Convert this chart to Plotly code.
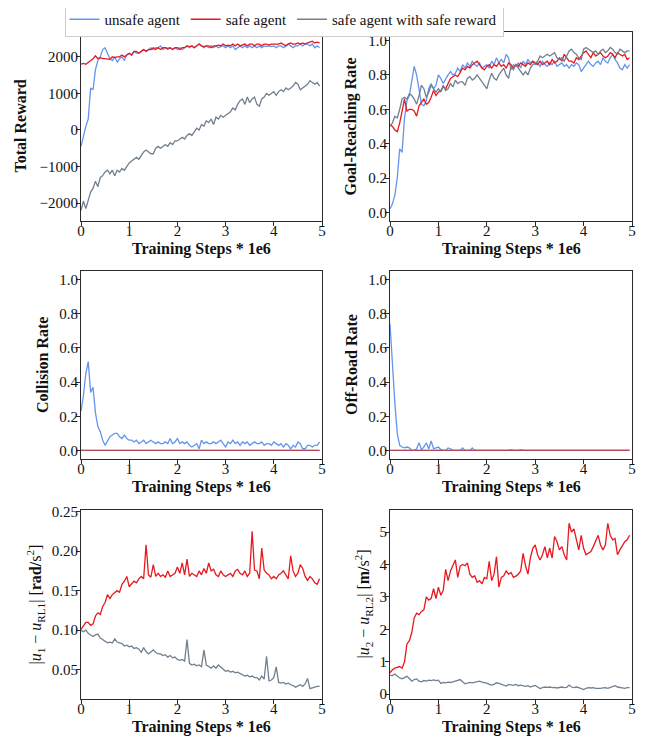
import plotly.graph_objects as go

# ---------------- data ----------------
steps = [round(i * 0.05, 2) for i in range(100)]  # training steps (x 1e6)

reward_unsafe = [
    -450, -150, 100, 300, 1150, 1100, 1650, 1900, 2000, 2200, 2250, 2100, 1950, 1900, 2000, 1850, 1950, 2000, 1900, 2050,
    2100, 2050, 2150, 2100, 2100, 2150, 2200, 2150, 2200, 2250, 2200, 2250, 2250, 2300, 2200, 2250, 2200, 2250, 2200, 2250,
    2200, 2250, 2200, 2250, 2300, 2250, 2300, 2250, 2300, 2350, 2300, 2250, 2300, 2250, 2300, 2250, 2300, 2250, 2280, 2300,
    2250, 2300, 2250, 2300, 2200, 2250, 2300, 2250, 2300, 2250, 2300, 2250, 2300, 2250, 2300, 2250, 2300, 2280, 2300, 2280,
    2300, 2250, 2300, 2300, 2250, 2300, 2350, 2300, 2250, 2300, 2300, 2350, 2300, 2350, 2350, 2300, 2350, 2250, 2300, 2250]
reward_safe = [
    1800, 1820, 1800, 1850, 1880, 1950, 2030, 1950, 1980, 1950, 1950, 1950, 1930, 2000, 1980, 2000, 2000, 2050, 2000, 2050,
    2100, 2050, 2150, 2150, 2100, 2150, 2200, 2150, 2200, 2200, 2250, 2200, 2250, 2200, 2250, 2250, 2230, 2250, 2200, 2250,
    2250, 2200, 2250, 2250, 2300, 2280, 2300, 2250, 2300, 2350, 2300, 2280, 2300, 2300, 2250, 2300, 2300, 2320, 2300, 2350,
    2300, 2320, 2300, 2350, 2300, 2350, 2300, 2320, 2350, 2300, 2350, 2350, 2300, 2350, 2350, 2300, 2350, 2350, 2320, 2350,
    2350, 2330, 2350, 2380, 2350, 2300, 2350, 2380, 2350, 2350, 2380, 2350, 2380, 2350, 2380, 2400, 2430, 2380, 2400, 2380]
reward_safe_sr = [
    -2200, -1950, -2150, -1900, -1700, -1600, -1400, -1550, -1300, -1250, -1150, -1100, -1200, -1100, -1250, -1100, -1150, -1050, -1100, -1000,
    -900, -850, -800, -750, -800, -700, -600, -550, -600, -650, -650, -500, -450, -500, -450, -400, -450, -350, -400, -300,
    -300, -250, -200, -250, -150, -100, -150, -50, 50, 0, 150, 100, 250, 200, 300, 150, 350, 300, 400, 350,
    400, 450, 500, 600, 550, 700, 800, 850, 700, 900, 750, 850, 900, 700, 650, 850, 900, 1000, 950, 1000,
    1050, 950, 1050, 1100, 1050, 1150, 1100, 1150, 1200, 1300, 1250, 1100, 1150, 1200, 1250, 1350, 1300, 1250, 1300, 1200]

goal_unsafe = [
    0.02, 0.05, 0.1, 0.2, 0.37, 0.35, 0.55, 0.65, 0.68, 0.78, 0.85, 0.8, 0.7, 0.63, 0.62, 0.65, 0.72, 0.75, 0.72, 0.74,
    0.8, 0.78, 0.75, 0.78, 0.8, 0.82, 0.8, 0.81, 0.84, 0.82, 0.86, 0.84, 0.87, 0.85, 0.88, 0.86, 0.85, 0.87, 0.84, 0.85,
    0.86, 0.84, 0.88, 0.86, 0.9, 0.87, 0.89, 0.87, 0.92, 0.9, 0.83, 0.86, 0.85, 0.87, 0.84, 0.88, 0.86, 0.89, 0.87, 0.88,
    0.86, 0.87, 0.85, 0.88, 0.86, 0.85, 0.87, 0.86, 0.88, 0.85, 0.86, 0.87, 0.85, 0.86, 0.84, 0.86, 0.85, 0.87, 0.86, 0.82,
    0.84, 0.86, 0.88, 0.86, 0.85, 0.87, 0.88, 0.86, 0.9, 0.88, 0.87, 0.9, 0.92, 0.89, 0.87, 0.84, 0.83, 0.86, 0.84, 0.86]
goal_safe = [
    0.51, 0.5, 0.48, 0.47, 0.52, 0.6, 0.66, 0.59, 0.6, 0.6, 0.59, 0.56, 0.62, 0.64, 0.66, 0.63, 0.64, 0.67, 0.71, 0.68,
    0.7, 0.71, 0.73, 0.72, 0.75, 0.78, 0.79, 0.8, 0.79, 0.82, 0.84, 0.83, 0.85, 0.84, 0.86, 0.87, 0.88, 0.86, 0.84, 0.83,
    0.85, 0.86, 0.84, 0.86, 0.85, 0.87, 0.85, 0.86, 0.84, 0.87, 0.86, 0.84, 0.86, 0.85, 0.87, 0.86, 0.85, 0.87, 0.86, 0.88,
    0.87, 0.86, 0.88, 0.86, 0.87, 0.88, 0.86, 0.89, 0.87, 0.88, 0.9, 0.88, 0.92, 0.9, 0.88, 0.88, 0.87, 0.9, 0.89, 0.91,
    0.93, 0.94, 0.92, 0.9, 0.93, 0.91, 0.92, 0.93, 0.91, 0.9, 0.91, 0.93, 0.92, 0.9, 0.93, 0.92, 0.91, 0.92, 0.89, 0.9]
goal_safe_sr = [
    0.5, 0.52, 0.56, 0.55, 0.6, 0.66, 0.67, 0.66, 0.69, 0.68, 0.66, 0.63, 0.68, 0.74, 0.72, 0.67, 0.7, 0.74, 0.72, 0.7,
    0.72, 0.7, 0.74, 0.71, 0.72, 0.75, 0.73, 0.77, 0.75, 0.76, 0.76, 0.74, 0.78, 0.79, 0.77, 0.78, 0.8, 0.78, 0.76, 0.74,
    0.72, 0.77, 0.81, 0.78, 0.77, 0.8, 0.82, 0.84, 0.8, 0.78, 0.85, 0.83, 0.86, 0.84, 0.82, 0.8, 0.82, 0.8, 0.84, 0.86,
    0.87, 0.88, 0.91, 0.9, 0.91, 0.92, 0.91, 0.92, 0.93, 0.9, 0.89, 0.9, 0.88, 0.91, 0.94, 0.95, 0.93, 0.92, 0.9, 0.89,
    0.95, 0.96, 0.95, 0.94, 0.93, 0.94, 0.92, 0.94, 0.95, 0.93, 0.94, 0.96, 0.95, 0.93, 0.92, 0.95, 0.94, 0.93, 0.94, 0.94]

collision_unsafe = [
    0.23, 0.32, 0.45, 0.52, 0.34, 0.37, 0.22, 0.14, 0.11, 0.06, 0.03, 0.06, 0.08, 0.09, 0.1, 0.1, 0.08, 0.07, 0.09, 0.07,
    0.06, 0.06, 0.05, 0.06, 0.04, 0.05, 0.06, 0.04, 0.05, 0.06, 0.05, 0.04, 0.05, 0.04, 0.04, 0.05, 0.04, 0.07, 0.04, 0.05,
    0.07, 0.04, 0.05, 0.04, 0.05, 0.03, 0.02, 0.03, 0.04, 0.01, 0.06, 0.04, 0.05, 0.04, 0.04, 0.05, 0.04, 0.05, 0.06, 0.04,
    0.02, 0.05, 0.04, 0.06, 0.04, 0.05, 0.03, 0.05, 0.04, 0.05, 0.03, 0.04, 0.05, 0.04, 0.04, 0.05, 0.03, 0.04, 0.04, 0.03,
    0.05, 0.04, 0.03, 0.04, 0.02, 0.04, 0.03, 0.01, 0.03, 0.02, 0.05, 0.04, 0.01, 0.01, 0.03, 0.03, 0.02, 0.03, 0.03, 0.05]
collision_safe = [0.0] * 40 + [0.004] + [0.0] * 59
collision_safe_sr = [0.0] * 100

offroad_unsafe = [
    0.74, 0.5, 0.28, 0.1, 0.03, 0.02, 0.015, 0.02, 0.015, 0.0, 0.0, 0.01, 0.045, 0.005, 0.02, 0.045, 0.01, 0.055, 0.01, 0.015,
    0.02, 0.005, 0.0, 0.0, 0.015, 0.01, 0.0, 0.0, 0.0, 0.0, 0.015, 0.0, 0.0, 0.0, 0.015, 0.0, 0.0, 0.0, 0.0, 0.0,
    0.0, 0.0, 0.0, 0.0, 0.0, 0.0, 0.0, 0.0, 0.0, 0.0, 0.005, 0.0, 0.0, 0.0, 0.005, 0.0, 0.0, 0.0, 0.0, 0.0,
    0.0, 0.0, 0.0, 0.0, 0.0, 0.0, 0.0, 0.0, 0.0, 0.0, 0.0, 0.0, 0.0, 0.0, 0.0, 0.0, 0.0, 0.0, 0.0, 0.0,
    0.0, 0.0, 0.0, 0.0, 0.0, 0.0, 0.0, 0.0, 0.0, 0.0, 0.0, 0.0, 0.0, 0.0, 0.0, 0.0, 0.0, 0.0, 0.0, 0.0]
offroad_safe = [0.0] * 100
offroad_safe_sr = [0.0] * 100

u1_safe = [
    0.101, 0.105, 0.11, 0.11, 0.106, 0.108, 0.118, 0.122, 0.12, 0.13, 0.135, 0.145, 0.14, 0.145, 0.148, 0.15, 0.148, 0.158, 0.162, 0.168,
    0.155, 0.158, 0.162, 0.16, 0.165, 0.168, 0.165, 0.208, 0.17, 0.167, 0.183, 0.168, 0.172, 0.168, 0.17, 0.167, 0.175, 0.168, 0.17, 0.172,
    0.18, 0.172, 0.185, 0.17, 0.19, 0.168, 0.172, 0.17, 0.168, 0.175, 0.17, 0.178, 0.172, 0.185, 0.175, 0.177, 0.17, 0.168, 0.175, 0.17,
    0.168, 0.17, 0.172, 0.168, 0.175, 0.177, 0.172, 0.17, 0.175, 0.168, 0.172, 0.225, 0.176, 0.175, 0.165, 0.204, 0.176, 0.172, 0.17, 0.165,
    0.168, 0.165, 0.17, 0.172, 0.175, 0.17, 0.165, 0.194, 0.175, 0.168, 0.172, 0.183, 0.178, 0.168, 0.163, 0.168, 0.165, 0.16, 0.158, 0.165]
u1_safe_sr = [
    0.1, 0.098, 0.1, 0.096, 0.094, 0.092, 0.094, 0.095, 0.09, 0.088, 0.086, 0.084, 0.085, 0.084, 0.089, 0.085, 0.084, 0.083, 0.08, 0.081,
    0.079, 0.08, 0.077, 0.078, 0.076, 0.072, 0.078, 0.073, 0.07, 0.072, 0.075, 0.072, 0.07, 0.07, 0.068, 0.069, 0.066, 0.068, 0.065, 0.066,
    0.063, 0.062, 0.063, 0.061, 0.088, 0.058, 0.056, 0.057, 0.055, 0.056, 0.054, 0.075, 0.056, 0.054, 0.052, 0.055, 0.052, 0.056, 0.053, 0.05,
    0.048, 0.049, 0.047, 0.048, 0.046, 0.047, 0.045, 0.044, 0.042, 0.043, 0.041, 0.042, 0.04, 0.04, 0.037, 0.042, 0.038, 0.067, 0.036, 0.037,
    0.04, 0.0535, 0.034, 0.033, 0.034, 0.032, 0.033, 0.031, 0.03, 0.028, 0.03, 0.031, 0.029, 0.032, 0.039, 0.026, 0.027, 0.028, 0.029, 0.029]

u2_safe = [
    0.66, 0.75, 0.8, 0.82, 0.85, 0.8, 1.0, 1.55, 1.65, 1.9, 2.35, 2.5, 2.45, 2.55, 2.6, 3.0, 2.9, 2.95, 3.25, 2.95,
    3.3, 3.05, 3.2, 3.85, 3.5, 3.8, 3.95, 4.14, 3.6, 3.95, 4.0, 3.96, 4.05, 3.7, 3.6, 3.65, 3.45, 3.5, 3.4, 3.6,
    3.56, 4.1, 3.5, 3.7, 4.24, 3.3, 3.6, 3.65, 3.8, 3.7, 3.75, 3.6, 3.64, 3.7, 3.8, 4.34, 3.96, 3.7, 4.2, 4.5,
    4.6, 4.3, 4.14, 4.3, 4.55, 4.2, 4.5, 4.2, 4.86, 4.7, 4.45, 4.55, 4.3, 4.14, 5.27, 5.0, 5.1, 4.8, 4.45, 4.9,
    4.5, 4.3, 4.35, 4.4, 4.55, 4.7, 4.9, 4.6, 4.45, 4.6, 5.27, 4.9, 4.76, 4.8, 4.3, 4.45, 4.6, 4.7, 4.76, 4.9]
u2_safe_sr = [
    0.58, 0.57, 0.62, 0.55, 0.5, 0.47, 0.5, 0.55, 0.48, 0.4, 0.45, 0.47, 0.4, 0.38, 0.42, 0.4, 0.43, 0.42, 0.44, 0.42,
    0.43, 0.33, 0.36, 0.35, 0.37, 0.36, 0.38, 0.4, 0.44, 0.45, 0.38, 0.32, 0.34, 0.36, 0.35, 0.37, 0.38, 0.4, 0.37, 0.36,
    0.34, 0.3, 0.28, 0.3, 0.35, 0.33, 0.3, 0.28, 0.25, 0.3, 0.28, 0.27, 0.3, 0.26, 0.28, 0.25, 0.24, 0.26, 0.22, 0.25,
    0.27, 0.22, 0.17, 0.2, 0.22, 0.21, 0.22, 0.2, 0.21, 0.19, 0.2, 0.22, 0.2, 0.21, 0.28, 0.22, 0.2, 0.22, 0.2, 0.18,
    0.14, 0.18, 0.2, 0.19, 0.2, 0.18, 0.17, 0.18, 0.19, 0.2, 0.18, 0.21, 0.22, 0.26, 0.22, 0.2, 0.19, 0.18, 0.2, 0.2]

series_names = ["unsafe agent", "safe agent", "safe agent with safe reward"]
x_ticks = [0, 1, 2, 3, 4, 5]
x_title = "Training Steps * 1e6"

# ---------------- styling ----------------
OFF = 8                      # page body margin of the html
W, H = 651 - OFF, 737 - OFF  # figure size so that it fills the window
FONT = "Liberation Serif"
BLUE, RED, GRAY = "#6495ED", "#E8191E", "#708090"
AX = "#2b2b2b"

def fx(p):   # window pixel -> paper x
    return (p - OFF) / W

def fy(p):   # window pixel -> paper y
    return 1 - (p - OFF) / H

cols = [(81, 322), (390, 632)]
rows = [(32, 221), (271, 459), (510, 699)]

panels = [
    dict(r=0, c=0, ylab="<b>Total Reward</b>", lab_dx=61, yr=[-2490, 2680],
         yt=[-2000, -1000, 0, 1000, 2000], ytt=["−2000", "−1000", "0", "1000", "2000"],
         tr=[(reward_unsafe, 0), (reward_safe, 1), (reward_safe_sr, 2)]),
    dict(r=0, c=1, ylab="<b>Goal-Reaching Rate</b>", lab_dx=39, yr=[-0.05, 1.05],
         yt=[0, 0.2, 0.4, 0.6, 0.8, 1.0], ytt=["0.0", "0.2", "0.4", "0.6", "0.8", "1.0"],
         tr=[(goal_unsafe, 0), (goal_safe, 1), (goal_safe_sr, 2)]),
    dict(r=1, c=0, ylab="<b>Collision Rate</b>", lab_dx=39, yr=[-0.05, 1.05],
         yt=[0, 0.2, 0.4, 0.6, 0.8, 1.0], ytt=["0.0", "0.2", "0.4", "0.6", "0.8", "1.0"],
         tr=[(collision_unsafe, 0), (collision_safe, 1), (collision_safe_sr, 2)]),
    dict(r=1, c=1, ylab="<b>Off-Road Rate</b>", lab_dx=39, yr=[-0.05, 1.05],
         yt=[0, 0.2, 0.4, 0.6, 0.8, 1.0], ytt=["0.0", "0.2", "0.4", "0.6", "0.8", "1.0"],
         tr=[(offroad_unsafe, 0), (offroad_safe, 1), (offroad_safe_sr, 2)]),
    dict(r=2, c=0, ylab="|<i>u</i><sub>1</sub> − <i>u</i><sub>RL1</sub>| [<b>rad/</b>s<sup>2</sup>]", lab_dx=46,
         yr=[0.013, 0.252],
         yt=[0.05, 0.10, 0.15, 0.20, 0.25], ytt=["0.05", "0.10", "0.15", "0.20", "0.25"],
         tr=[(u1_safe, 1), (u1_safe_sr, 2)]),
    dict(r=2, c=1, ylab="|<i>u</i><sub>2</sub> − <i>u</i><sub>RL2</sub>| [<b>m/</b>s<sup>2</sup>]", lab_dx=27,
         yr=[-0.15, 5.68],
         yt=[0, 1, 2, 3, 4, 5], ytt=["0", "1", "2", "3", "4", "5"],
         tr=[(u2_safe, 1), (u2_safe_sr, 2)]),
]

colors = [BLUE, RED, GRAY]
fig = go.Figure()
annotations = []
layout = {}
for k, p in enumerate(panels, start=1):
    x0, x1 = cols[p["c"]]
    y0, y1 = rows[p["r"]]
    xa = "xaxis" if k == 1 else f"xaxis{k}"
    ya = "yaxis" if k == 1 else f"yaxis{k}"
    xref = "x" if k == 1 else f"x{k}"
    yref = "y" if k == 1 else f"y{k}"
    common = dict(showline=True, linecolor=AX, linewidth=1, mirror=True, showgrid=False,
                  zeroline=False, ticks="outside", ticklen=4, tickcolor=AX, tickwidth=1,
                  automargin=False,
                  tickfont=dict(family=FONT, size=15, color="#111"))
    layout[xa] = dict(domain=[fx(x0), fx(x1)], anchor=yref, range=[0, 5], ticklabelstandoff=-8,
                      tickmode="array", tickvals=x_ticks, ticktext=[str(t) for t in x_ticks], **common)
    layout[ya] = dict(domain=[fy(y1), fy(y0)], anchor=xref, range=p["yr"], ticklabelstandoff=-5,
                      tickmode="array", tickvals=p["yt"], ticktext=p["ytt"], **common)
    for vals, s in p["tr"]:
        fig.add_trace(go.Scatter(x=steps, y=vals, mode="lines", name=series_names[s],
                                 line=dict(color=colors[s], width=1.3),
                                 opacity=0.5 if (s == 2 and k in (3, 4)) else 1.0,
                                 showlegend=(k == 1), legendgroup=series_names[s],
                                 xaxis=xref, yaxis=yref))
    # y-axis title
    annotations.append(dict(text=p["ylab"], xref="paper", yref="paper",
                            x=fx(x0 - p["lab_dx"]), y=fy((y0 + y1) / 2),
                            xanchor="center", yanchor="middle", textangle=-90, showarrow=False,
                            font=dict(family=FONT, size=16, color="#111")))
    # x-axis title
    annotations.append(dict(text=f"<b>{x_title}</b>", xref="paper", yref="paper",
                            x=fx((x0 + x1) / 2), y=fy(y1 + 28),
                            xanchor="center", yanchor="middle", showarrow=False,
                            font=dict(family=FONT, size=16, color="#111")))

fig.update_layout(
    width=W, height=H, autosize=False,
    margin=dict(l=0, r=0, t=0, b=0, autoexpand=False),
    paper_bgcolor="white", plot_bgcolor="white",
    font=dict(family=FONT, size=15, color="#111"),
    annotations=annotations,
    legend=dict(orientation="h", x=fx(284), y=fy(2), xanchor="center", yanchor="top",
                bordercolor="#cccccc", borderwidth=1, bgcolor="white",
                font=dict(family=FONT, size=15, color="#111"), itemwidth=30,
                tracegroupgap=0),
    **layout,
)

fig.write_html("out.html")
